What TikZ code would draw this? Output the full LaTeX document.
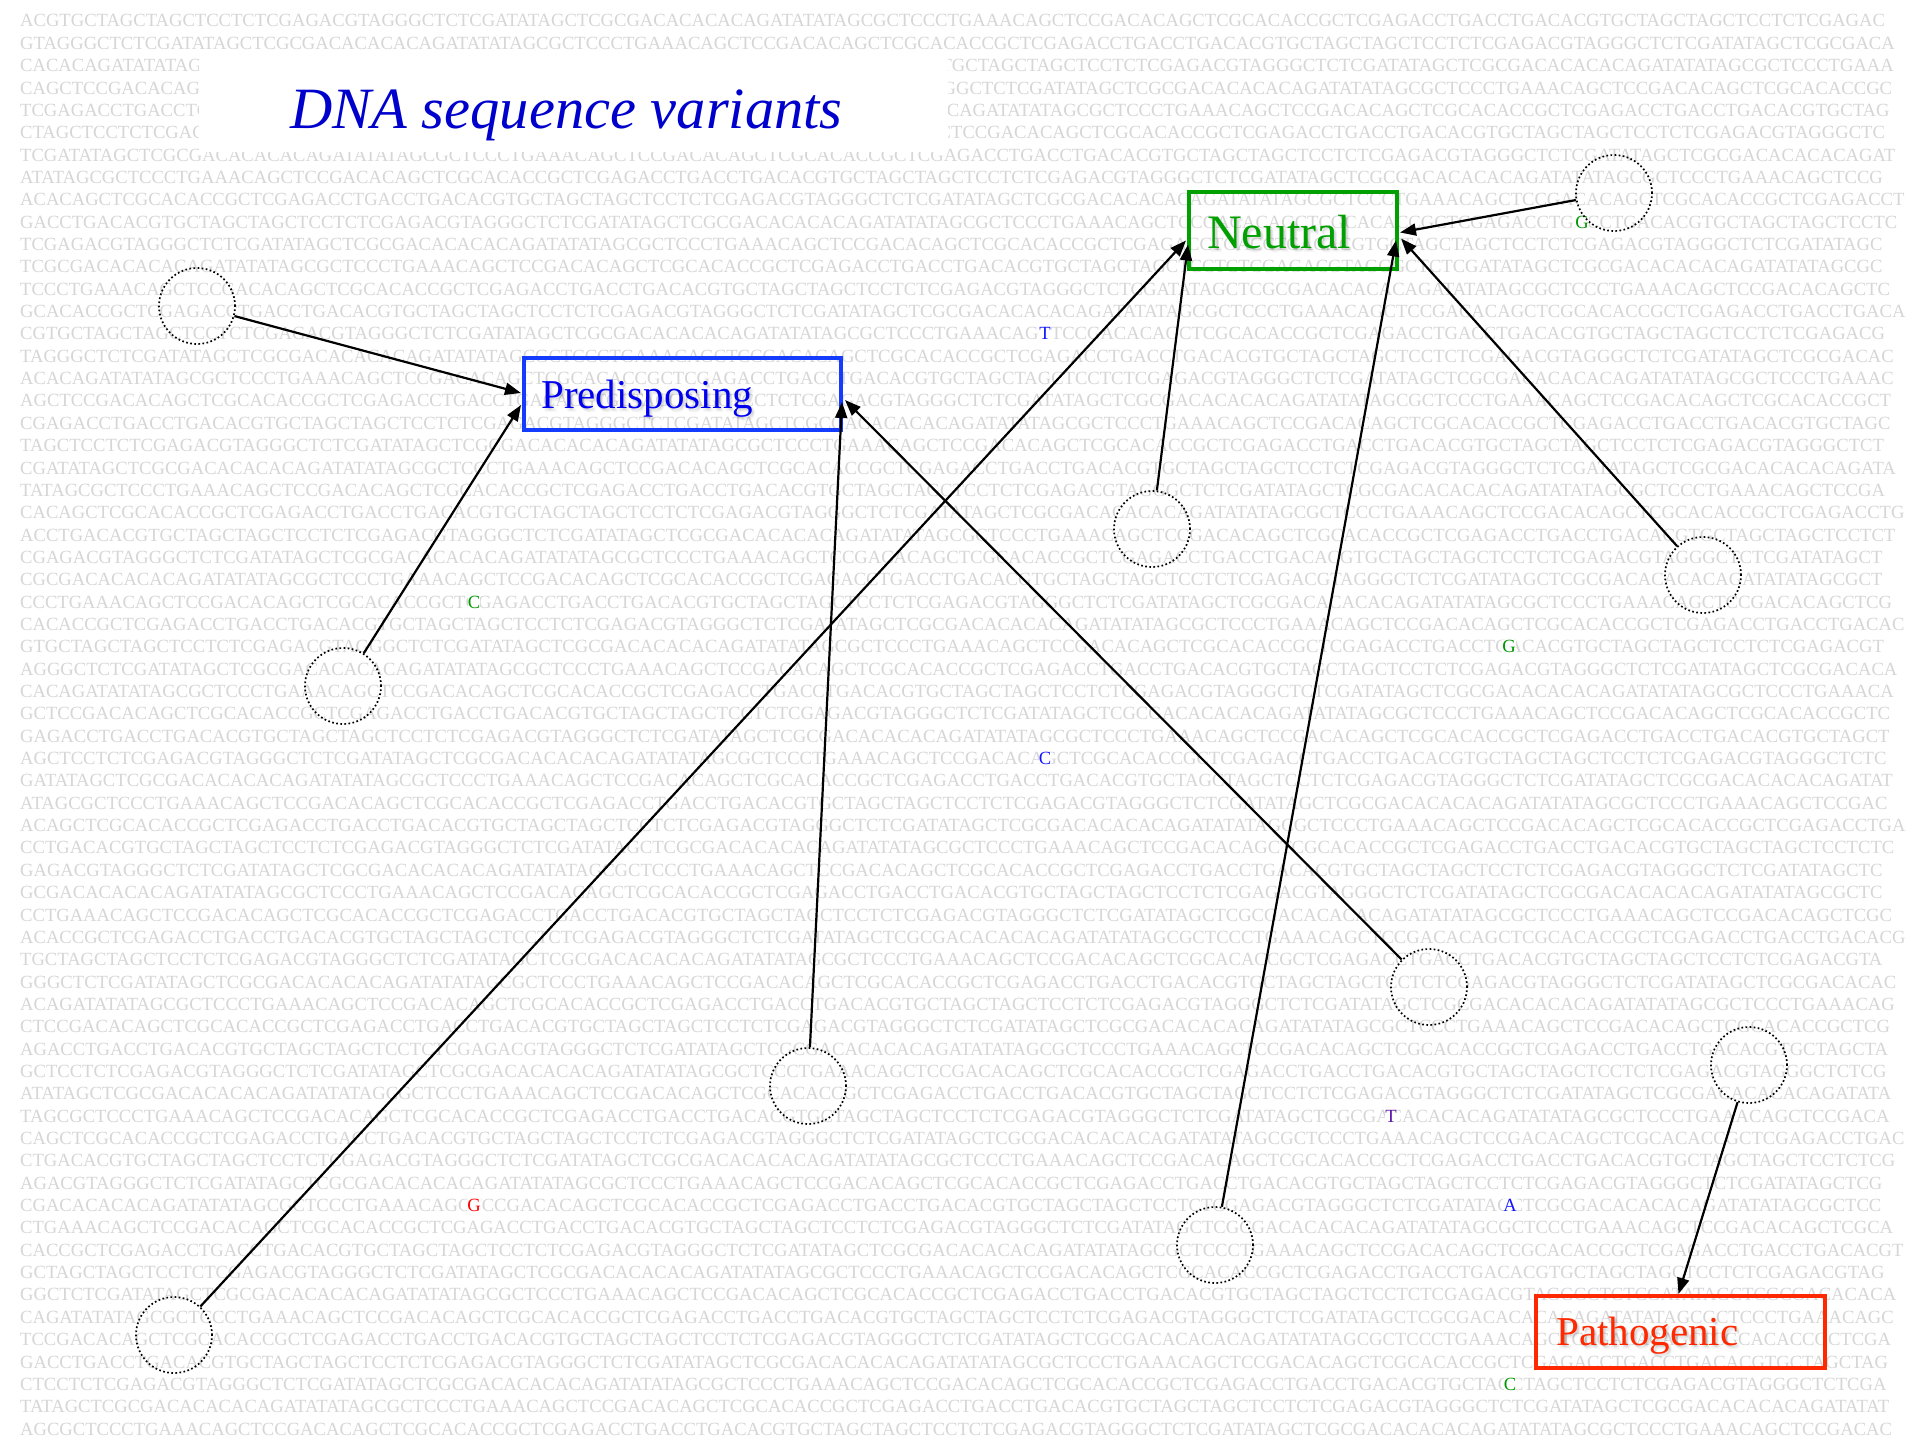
\documentclass[tikz,border=0pt]{standalone}
\usepackage{fontspec}
\setmainfont{Liberation Serif}
\usepackage{xstring}
\usetikzlibrary{arrows.meta,calc}

\definecolor{seqgray}{RGB}{214,214,214}
\definecolor{titleblue}{RGB}{0,0,204}
\definecolor{predblue}{RGB}{20,60,255}
\definecolor{predtext}{RGB}{0,0,240}
\definecolor{neutgreen}{RGB}{0,160,0}
\definecolor{pathred}{RGB}{255,40,0}
\definecolor{varblue}{RGB}{20,20,255}
\definecolor{vargreen}{RGB}{0,150,0}
\definecolor{varpurple}{RGB}{90,20,170}
\definecolor{varred}{RGB}{255,0,0}

% repeating unit of the background sequence
\def\dnaunit{ACGTGCTAGCTAGCTCCTCTCGAGACGTAGGGCTCTCGATATAGCTCGCGACACACACAGATATATAGCGCTCCCTGAAACAGCTCCGACACAGCTCGCACACCGCTCGAGACCTGACCTGAC}
\edef\dnaseq{\dnaunit\dnaunit\dnaunit}
\newcount\dnaoff
\newcount\dnalen

\tikzset{
  seqrow/.style={anchor=base west, inner sep=0pt, text=seqgray,
    font=\fontsize{18.6}{22}\selectfont},
  varletter/.style={anchor=base, inner sep=0pt, fill=white,
    font=\fontsize{18.6}{22}\selectfont},
  titletext/.style={anchor=base west, inner sep=0pt, text=titleblue,
    font=\fontsize{58.5}{64}\selectfont\itshape},
  classbox/.style={rectangle, draw, line width=4pt, inner sep=0pt},
  classlabel/.style={anchor=base west, inner sep=0pt},
  labelshadow/.style={anchor=base west, inner sep=0pt, text=black, opacity=0.035},
  site/.style={circle, draw=black, line width=1.7pt,
    dash pattern=on 1.7pt off 2.4pt, minimum size=76pt, inner sep=0pt},
  edge/.style={draw=black, line width=2.2pt,
    -{Triangle[length=16pt,width=12pt]}},
}

% soft shadow under a box label: a few faint offset copies
\newcommand{\softshadow}[4]{% name, position, font, text
  \foreach \dx/\dy [count=\i] in {1/2,2/3,3/2,3/4,2/1}{
    \node[labelshadow, font=#3] (#1-\i) at ($#2+(\dx,\dy)$) {#4};
  }
}

\begin{document}
\begin{tikzpicture}[x=1pt,y=-1pt]
\useasboundingbox (0,0) rectangle (1920,1440);
\fill[white] (0,0) rectangle (1920,1440);

% background sequence, one row per line
\global\dnaoff=0
\foreach \k in {0,...,63}{
  \pgfmathtruncatemacro\kmod{mod(\k,7)}
  \ifnum\kmod=1 \global\dnalen=150 \else
    \ifnum\kmod=2 \global\dnalen=150 \else
      \ifnum\kmod=6 \global\dnalen=150 \else \global\dnalen=149 \fi
    \fi
  \fi
  \edef\dnafrom{\the\numexpr\dnaoff+1\relax}
  \edef\dnato{\the\numexpr\dnaoff+\dnalen\relax}
  \StrMid{\dnaseq}{\dnafrom}{\dnato}[\dnarow]
  \node[seqrow] (row\k) at (20,{27+22.35*\k}) {\dnarow};
  \global\advance\dnaoff by \dnalen
  \ifnum\dnaoff>122 \global\advance\dnaoff by -123 \fi
  \ifnum\dnaoff>122 \global\advance\dnaoff by -123 \fi
}

% variant bases
\node[varletter, text=varblue]   (v1) at (1045,{27+22.35*14}) {T};
\node[varletter, text=vargreen]  (v2) at (1582,{27+22.35*9})  {G};
\node[varletter, text=vargreen]  (v3) at (474,{27+22.35*26})  {C};
\node[varletter, text=vargreen]  (v4) at (1509,{27+22.35*28}) {G};
\node[varletter, text=varblue]   (v5) at (1045,{27+22.35*33}) {C};
\node[varletter, text=varpurple] (v6) at (1391,{27+22.35*49}) {T};
\node[varletter, text=varred]    (v7) at (474,{27+22.35*53})  {G};
\node[varletter, text=varblue]   (v8) at (1510,{27+22.35*53}) {A};
\node[varletter, text=vargreen]  (v9) at (1510,{27+22.35*61}) {C};

% title
\fill[white] (199,52) rectangle (948,152);
\node[titletext] (title) at (290,128) {DNA sequence variants};

% classification boxes
\node[classbox, draw=neutgreen, minimum width=208pt, minimum height=77pt] (neutral) at (1293,230.5) {};
\softshadow{neutralsh}{(1207,248)}{\fontsize{48}{52}\selectfont}{Neutral}
\node[classlabel, text=neutgreen, font=\fontsize{48}{52}\selectfont] (neutrallbl) at (1207,248) {Neutral};

\node[classbox, draw=predblue, minimum width=317pt, minimum height=72pt] (pred) at (682.5,394) {};
\softshadow{predsh}{(541,408)}{\fontsize{41}{46}\selectfont}{Predisposing}
\node[classlabel, text=predtext, font=\fontsize{41}{46}\selectfont] (predlbl) at (541,408) {Predisposing};

\node[classbox, draw=pathred, minimum width=289pt, minimum height=72pt] (patho) at (1680.5,1332) {};
\softshadow{pathsh}{(1556,1345)}{\fontsize{41}{46}\selectfont}{Pathogenic}
\node[classlabel, text=pathred, font=\fontsize{41}{46}\selectfont] (patholbl) at (1556,1345) {Pathogenic};

% variant sites
\node[site] (c1)  at (197,306)  {};
\node[site] (c2)  at (1614,193) {};
\node[site] (c3)  at (1152,529) {};
\node[site] (c4)  at (1703,575) {};
\node[site] (c5)  at (343,686)  {};
\node[site] (c6)  at (1429,987) {};
\node[site] (c7)  at (808,1086) {};
\node[site] (c8)  at (1749,1065) {};
\node[site] (c9)  at (1215,1245) {};
\node[site] (c10) at (174,1335) {};

% arrow ends on the box borders
\coordinate (predIn1) at ($(pred.west)+(-1,-1)$);
\coordinate (predIn2) at ($(pred.west)+(-1,11)$);
\coordinate (predIn3) at ($(pred.east)+(-1,8)$);
\coordinate (predIn4) at ($(pred.east)+(2,6)$);
\coordinate (neuIn1) at ($(neutral.west)+(-1,10)$);
\coordinate (neuIn2) at ($(neutral.west)+(1,14)$);
\coordinate (neuIn3) at ($(neutral.east)+(1,2)$);
\coordinate (neuIn4) at ($(neutral.east)+(-3,10)$);
\coordinate (neuIn5) at ($(neutral.east)+(2,8)$);
\coordinate (pathIn) at ($(patho.north)+(-2,0)$);

\draw[edge] (c1) -- (predIn1);
\draw[edge] (c5) -- (predIn2);
\draw[edge] (c7) -- (predIn3);
\draw[edge] (c6) -- (predIn4);
\draw[edge] (c10) -- (neuIn1);
\draw[edge] (c3) -- (neuIn2);
\draw[edge] (c2) -- (neuIn3);
\draw[edge] (c9) -- (neuIn4);
\draw[edge] (c4) -- (neuIn5);
\draw[edge] (c8) -- (pathIn);
\end{tikzpicture}
\end{document}
